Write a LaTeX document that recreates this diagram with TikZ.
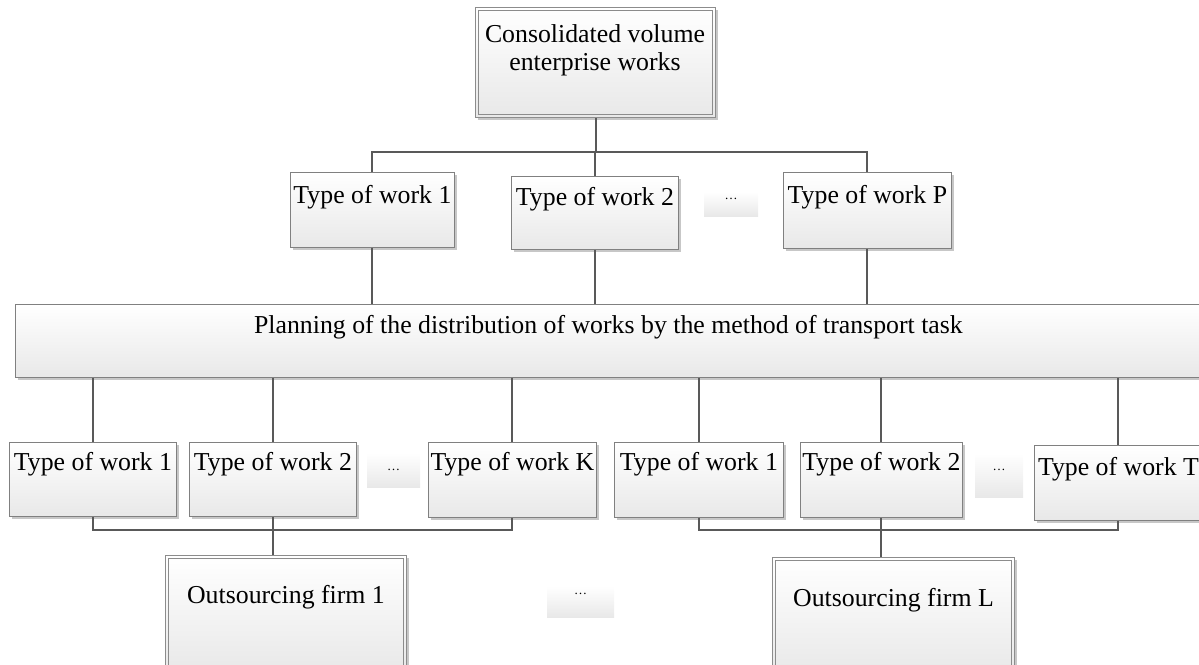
\documentclass[tikz,border=0pt]{standalone}
\usepackage{fontspec}
\setmainfont{Liberation Serif}
\usetikzlibrary{shadows,calc}
\tikzset{
  x=1pt, y=-1pt,
  boxfill/.style={shading=axis, top color=white, bottom color=black!9, shading angle=0},
  shad/.style={drop shadow={shadow xshift=2.5pt, shadow yshift=-2.5pt, fill=black!22, opacity=1}},
  wbox/.style={boxfill, shad, draw=black!50, line width=0.9pt, inner sep=0pt,
    anchor=north west, font=\fontsize{25.8}{28}\selectfont},
  dbox/.style={wbox, draw=black!45, line width=1pt},
  innerb/.style={draw=black!45, line width=0.8pt},
  dotbox/.style={boxfill, draw=none, inner sep=0pt, anchor=north west,
    font=\fontsize{13}{14}\selectfont},
  conn/.style={draw=black!65, line width=2pt}
}
\begin{document}
\begin{tikzpicture}
\useasboundingbox (0,0) rectangle (1199,664);
% top
\node[dbox, minimum width=240, minimum height=110] (top) at (475,7) {};
\draw[innerb] ($(top.north west)+(3.5,3.5)$) rectangle ($(top.south east)+(-3.5,-3.5)$);
\node[font=\fontsize{25.8}{28}\selectfont, align=center, inner sep=0pt, anchor=base] (toptext) at (595,70) {Consolidated volume\\enterprise works};
% first level
\node[wbox, minimum width=164, text height=31, text depth=44] (t1) at (290,172) {Type of work 1};
\node[wbox, minimum width=167, text height=29, text depth=44] (t2) at (511,176) {Type of work 2};
\node[dotbox, minimum width=54, text height=7, text depth=17] (d1) at (704,192) {…};
\node[wbox, minimum width=168, text height=31, text depth=45] (tP) at (783,172) {Type of work P};
% planning
\node[wbox, minimum width=1186, text height=29, text depth=44] (plan) at (15,304) {Planning of the distribution of works by the method of transport task};
% second level
\node[wbox, minimum width=167, text height=28, text depth=46] (l1) at (9,442) {Type of work 1};
\node[wbox, minimum width=167, text height=28, text depth=46] (l2) at (189,442) {Type of work 2};
\node[dotbox, minimum width=53, text height=17, text depth=17] (d2) at (367,453) {…};
\node[wbox, minimum width=168, text height=28, text depth=47] (lK) at (428,442) {Type of work K};
\node[wbox, minimum width=169, text height=28, text depth=47] (r1) at (614,442) {Type of work 1};
\node[wbox, minimum width=162, text height=28, text depth=47] (r2) at (800,442) {Type of work 2};
\node[dotbox, minimum width=48, text height=17, text depth=27] (d3) at (975,453) {…};
\node[wbox, minimum width=168, text height=30, text depth=45] (rT) at (1034,445) {Type of work T};
% outsourcing
\node[dbox, minimum width=241, text height=48, text depth=70] (o1) at (165,555) {Outsourcing firm 1};
\draw[innerb] ($(o1.north west)+(3.5,3.5)$) rectangle ($(o1.south east)+(-3.5,-3.5)$);
\node[dotbox, minimum width=67, text height=8, text depth=23] (d4) at (547,586) {…};
\node[dbox, minimum width=242, text height=49, text depth=70] (oL) at (772,557) {Outsourcing firm L};
\draw[innerb] ($(oL.north west)+(3.5,3.5)$) rectangle ($(oL.south east)+(-3.5,-3.5)$);
% connectors
\coordinate (bus1) at (595,152);
\coordinate (bus2) at (300,530);
\coordinate (bus3) at (900,530);
\draw[conn] (top.south) -- (top.south |- bus1);
\draw[conn] (t1.north) |- (bus1) -| (tP.north);
\draw[conn] (t2.north) -- (t2.north |- bus1);
\foreach \n in {t1,t2,tP}{
  \draw[conn] (\n.south) -- (\n.south |- plan.north);
}
\foreach \n in {l1,l2,lK,r1,r2,rT}{
  \draw[conn] (plan.south -| \n.north) -- (\n.north);
}
\draw[conn] (l1.south) |- (bus2) -| (lK.south);
\draw[conn] (l2.south) -- (l2.south |- o1.north);
\draw[conn] (r1.south) |- (bus3) -| (rT.south);
\draw[conn] (r2.south) -- (r2.south |- oL.north);
\end{tikzpicture}
\end{document}
